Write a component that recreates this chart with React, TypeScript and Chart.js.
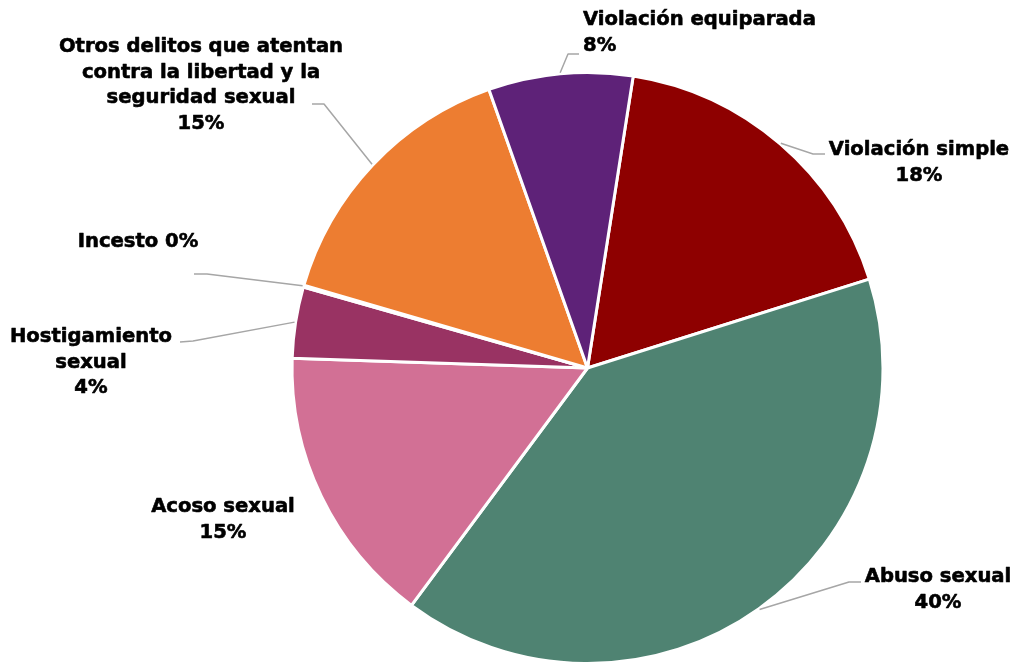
import React, { useEffect, useRef } from "react";
import { Chart, registerables } from "chart.js";

Chart.register(...registerables);

const categories = [
  "Violación simple",
  "Abuso sexual",
  "Acoso sexual",
  "Hostigamiento sexual",
  "Incesto",
  "Otros delitos que atentan contra la libertad y la seguridad sexual",
  "Violación equiparada",
];
const values = [17.7, 40.1, 15.4, 3.9, 0.1, 15.1, 7.9];
const colors = ["#8E0000", "#4F8372", "#D27095", "#993363", "#C0504D", "#ED7D31", "#5E2278"];
// label text lines (percent is appended from data)
const labelLines: string[][] = [
  ["Violación simple"],
  ["Abuso sexual"],
  ["Acoso sexual"],
  ["Hostigamiento", "sexual"],
  ["Incesto"],
  ["Otros delitos que atentan", "contra la libertad y la", "seguridad sexual"],
  ["Violación equiparada"],
];
const percentInline = [false, false, false, false, true, false, false];

type Lay = { x: number; y: number; align: CanvasTextAlign; elbow?: [number, number]; end?: [number, number] };
const layout: Lay[] = [
  { x: 919, y: 155, align: "center", elbow: [813, 154], end: [825, 154] },
  { x: 938, y: 582, align: "center", elbow: [849, 582], end: [861, 582] },
  { x: 223, y: 512, align: "center" },
  { x: 91, y: 342, align: "center", elbow: [193, 341], end: [180, 342] },
  { x: 138, y: 247, align: "center", elbow: [207, 274], end: [194, 274] },
  { x: 201, y: 52, align: "center", elbow: [324, 104], end: [312, 104] },
  { x: 583, y: 25, align: "left", elbow: [568, 54], end: [579, 54] },
];
const LINE_H = 25.5;
const FONT = "bold 19.6px 'DejaVu Sans'";

const labelPlugin = {
  id: "pieLabels",
  afterDatasetsDraw(chart: any) {
    const ctx = chart.ctx as CanvasRenderingContext2D;
    const meta = chart.getDatasetMeta(0);
    const data = chart.data.datasets[0].data as number[];
    const total = data.reduce((a, b) => a + b, 0);
    ctx.save();
    meta.data.forEach((arc: any, i: number) => {
      const p = arc.getProps(["x", "y", "startAngle", "endAngle", "outerRadius"], true);
      const mid = (p.startAngle + p.endAngle) / 2;
      const sx = p.x + Math.cos(mid) * (p.outerRadius + 1);
      const sy = p.y + Math.sin(mid) * (p.outerRadius + 1);
      const L = layout[i];
      if (L.elbow && L.end) {
        ctx.strokeStyle = "#A6A6A6";
        ctx.lineWidth = 1.5;
        ctx.beginPath();
        ctx.moveTo(sx, sy);
        ctx.lineTo(L.elbow[0], L.elbow[1]);
        ctx.lineTo(L.end[0], L.end[1]);
        ctx.stroke();
      }
      const pct = Math.round((data[i] / total) * 100) + "%";
      const lines = labelLines[i].slice();
      if (percentInline[i]) lines[lines.length - 1] += " " + pct;
      else lines.push(pct);
      ctx.fillStyle = "#000000";
      ctx.strokeStyle = "#000000";
      ctx.lineWidth = 0.6;
      ctx.lineJoin = "round";
      ctx.font = FONT;
      ctx.textAlign = L.align;
      ctx.textBaseline = "alphabetic";
      lines.forEach((t, k) => {
        ctx.fillText(t, L.x, L.y + k * LINE_H);
        ctx.strokeText(t, L.x, L.y + k * LINE_H);
      });
    });
    ctx.restore();
  },
};

export default function App() {
  const ref = useRef<HTMLCanvasElement>(null);
  useEffect(() => {
    const chart = new Chart(ref.current!, {
      type: "pie",
      data: {
        labels: categories,
        datasets: [
          {
            data: values,
            backgroundColor: colors,
            borderColor: "#FFFFFF",
            borderWidth: 3,
          },
        ],
      },
      options: {
        animation: false,
        responsive: false,
        rotation: 8.9,
        layout: { padding: { top: 71, bottom: -5, left: 160, right: 0 } },
        plugins: { legend: { display: false }, tooltip: { enabled: false } },
      },
      plugins: [labelPlugin],
    });
    return () => chart.destroy();
  }, []);
  return (
    <div style={{ position: "fixed", left: 0, top: 0, width: 1015, height: 665, background: "#fff" }}>
      <canvas ref={ref} width={1015} height={665} style={{ width: 1015, height: 665 }} />
    </div>
  );
}
